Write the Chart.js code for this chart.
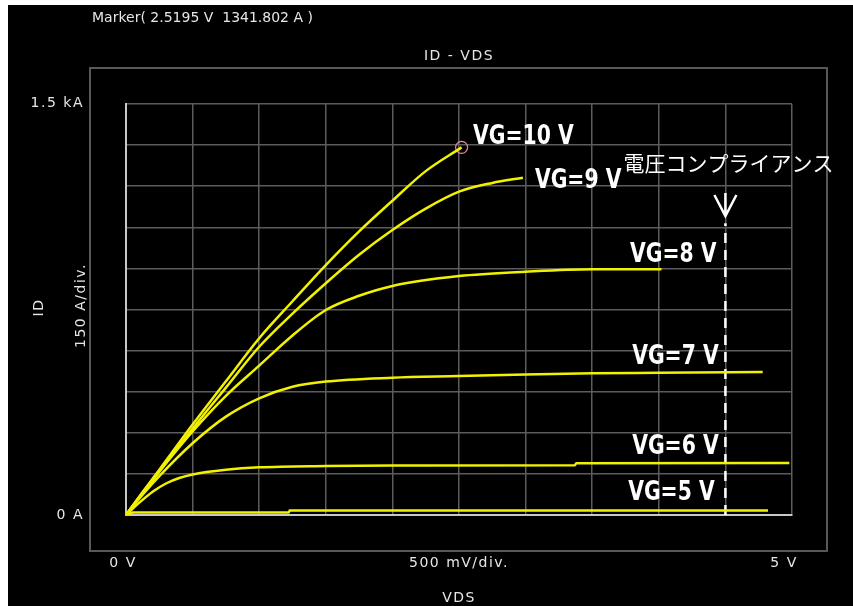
<!DOCTYPE html>
<html>
<head>
<meta charset="utf-8">
<script src="https://cdn.jsdelivr.net/npm/chart.js@4/dist/chart.umd.min.js"></script>
<style>
  html, body { margin: 0; padding: 0; background: #fff; }
  #wrap { position: absolute; left: 8px; top: 5px; width: 845px; height: 601px; background: #000; }
</style>
</head>
<body>
<div id="wrap"><canvas id="idvds" width="845" height="601"></canvas></div>
<script>
// 軸の範囲
const X_MIN = 0, X_MAX = 5, X_STEP = 0.5;
const Y_MIN = 0, Y_MAX = 1500, Y_STEP = 150;

// 各ゲート電圧の ID-VDS 曲線 (V, A)
const vg10_v = [0, 0.1, 0.25, 0.5, 0.75, 1.0, 1.25, 1.5, 1.75, 2.0, 2.25, 2.5195];
const vg10_i = [0, 68, 165, 330, 488, 645, 780, 912, 1035, 1147, 1255, 1341.8];
const vg9_v = [0, 0.1, 0.25, 0.5, 0.75, 1.0, 1.25, 1.5, 1.75, 2.0, 2.25, 2.5, 2.75, 2.98];
const vg9_i = [0, 65, 160, 315, 465, 614, 735, 846, 950, 1040, 1118, 1180, 1212, 1231];
const vg8_v = [0, 0.1, 0.25, 0.5, 0.75, 1.0, 1.25, 1.5, 1.75, 2.0, 2.5, 3.0, 3.5, 4.02];
const vg8_i = [0, 64, 158, 305, 435, 545, 655, 748, 800, 836, 872, 888, 897, 897];
const vg7_v = [0, 0.1, 0.25, 0.5, 0.75, 1.0, 1.25, 1.5, 2.0, 2.5, 3.0, 3.5, 4.0, 4.78];
const vg7_i = [0, 60, 142, 262, 359, 426, 468, 487, 501, 507, 513, 517, 519, 522];
const vg6_v = [0, 0.1, 0.2, 0.3, 0.4, 0.5, 0.75, 1.0, 1.5, 2.0, 3.37, 3.38, 4.98];
const vg6_i = [0, 45, 85, 115, 135, 148, 165, 174, 179, 181, 182, 189, 190];
const vg5_v = [0, 0.05, 1.22, 1.23, 4.82];
const vg5_i = [0, 9, 9, 16, 16];

// マーカー位置
const marker_v = 2.5195, marker_i = 1341.802;
// 電圧コンプライアンス
const compliance_v = 4.5;
const compliance_i = [0, 1065];

// 曲線ラベル（左端の V, 中心の A）
const curveLabels = ['VG=10 V', 'VG=9 V', 'VG=8 V', 'VG=7 V', 'VG=6 V', 'VG=5 V'];
const labelV = [2.605, 3.07, 3.784, 3.80, 3.80, 3.77];
const labelI = [1378, 1217, 947, 575, 246, 78];

const curves = [
  [vg10_v, vg10_i], [vg9_v, vg9_i], [vg8_v, vg8_i],
  [vg7_v, vg7_i], [vg6_v, vg6_i], [vg5_v, vg5_i]
];

function toPoints(xs, ys) {
  return xs.map((x, i) => ({x: x, y: ys[i]}));
}

const datasets = curves.map((c, k) => ({
  label: curveLabels[k],
  data: toPoints(c[0], c[1]),
  borderColor: '#f2f200',
  borderWidth: 2.5,
  pointRadius: 0,
  cubicInterpolationMode: k < 5 ? 'monotone' : 'default',
  tension: 0
}));

// コンプライアンスの破線
datasets.push({
  label: 'compliance',
  data: compliance_i.map(i => ({x: compliance_v, y: i})),
  borderColor: '#ffffff',
  borderWidth: 2.5,
  borderDash: [10, 7],
  pointRadius: 0
});

// マーカー
datasets.push({
  label: 'marker',
  data: [{x: marker_v, y: marker_i}],
  showLine: false,
  pointRadius: 6,
  pointBorderWidth: 1.2,
  pointBorderColor: '#d890b0',
  pointBackgroundColor: 'rgba(0,0,0,0)'
});

const SMALL_FONT = '14px "DejaVu Sans", sans-serif';
const TEXT_COLOR = '#e6e6e6';

// 枠・文字・矢印の描画
const decor = {
  id: 'decor',
  afterDraw(chart) {
    const ctx = chart.ctx;
    const xs = chart.scales.x, ys = chart.scales.y;
    const area = chart.chartArea;
    const midX = (area.left + area.right) / 2;
    ctx.save();

    // 外枠
    ctx.strokeStyle = '#585858';
    ctx.lineWidth = 2;
    ctx.strokeRect(82, 63, 737, 483);

    // 小さい文字
    ctx.fillStyle = TEXT_COLOR;
    ctx.font = SMALL_FONT;
    ctx.textBaseline = 'middle';
    ctx.textAlign = 'left';
    ctx.fillText('Marker( ' + marker_v.toFixed(4) + ' V  ' + marker_i.toFixed(3) + ' A )', 84, 13);

    ctx.letterSpacing = '1.5px';
    ctx.textAlign = 'center';
    ctx.fillText('ID - VDS', midX, 51);
    ctx.textAlign = 'right';
    ctx.fillText('1.5 kA', 76, ys.getPixelForValue(Y_MAX) - 1);
    ctx.fillText('0 A', 76, ys.getPixelForValue(Y_MIN));
    ctx.textAlign = 'center';
    const by = area.bottom + 48;
    ctx.fillText('0 V', xs.getPixelForValue(X_MIN) - 3, by);
    ctx.fillText('5 V', xs.getPixelForValue(X_MAX) - 8, by);
    ctx.fillText('500 mV/div.', midX, by);
    ctx.fillText('VDS', midX, area.bottom + 83);

    ctx.save();
    ctx.translate(31, (area.top + area.bottom) / 2 - 2);
    ctx.rotate(-Math.PI / 2);
    ctx.fillText('ID', 0, 0);
    ctx.restore();
    ctx.save();
    ctx.translate(73, (area.top + area.bottom) / 2 - 4);
    ctx.rotate(-Math.PI / 2);
    ctx.fillText('150 A/div.', 0, 0);
    ctx.restore();
    ctx.letterSpacing = '0px';

    // 曲線ラベル（横方向を少し詰める）
    ctx.fillStyle = '#ffffff';
    ctx.font = 'bold 26px "Liberation Sans Narrow", "DejaVu Sans Condensed", sans-serif';
    ctx.textAlign = 'left';
    curveLabels.forEach((t, k) => {
      ctx.save();
      ctx.translate(xs.getPixelForValue(labelV[k]), ys.getPixelForValue(labelI[k]));
      ctx.scale(0.87, 1);
      ctx.fillText(t, 0, 0);
      ctx.restore();
    });

    // 電圧コンプライアンス
    const cx = xs.getPixelForValue(compliance_v);
    ctx.font = '21px "Noto Sans CJK JP", sans-serif';
    ctx.textAlign = 'center';
    ctx.fillText('電圧コンプライアンス', cx + 3, 158);
    ctx.strokeStyle = '#ffffff';
    ctx.lineWidth = 2.5;
    ctx.beginPath();
    ctx.moveTo(cx, 188);
    ctx.lineTo(cx, 210);
    ctx.moveTo(cx - 11, 190);
    ctx.lineTo(cx, 211);
    ctx.lineTo(cx + 11, 190);
    ctx.stroke();

    ctx.restore();
  }
};

new Chart(document.getElementById('idvds'), {
  type: 'line',
  data: {datasets: datasets},
  options: {
    responsive: false,
    animation: false,
    events: [],
    layout: {padding: {left: 118, top: 99, right: 61, bottom: 91}},
    plugins: {legend: {display: false}, tooltip: {enabled: false}},
    scales: {
      x: {
        type: 'linear',
        min: X_MIN, max: X_MAX,
        ticks: {display: false, stepSize: X_STEP},
        grid: {color: '#5c5c5c', lineWidth: 1.5, drawTicks: false},
        border: {color: '#c8c8c8', width: 2}
      },
      y: {
        type: 'linear',
        min: Y_MIN, max: Y_MAX,
        ticks: {display: false, stepSize: Y_STEP},
        grid: {color: '#5c5c5c', lineWidth: 1.5, drawTicks: false},
        border: {color: '#c8c8c8', width: 2}
      }
    }
  },
  plugins: [decor]
});
</script>
</body>
</html>
